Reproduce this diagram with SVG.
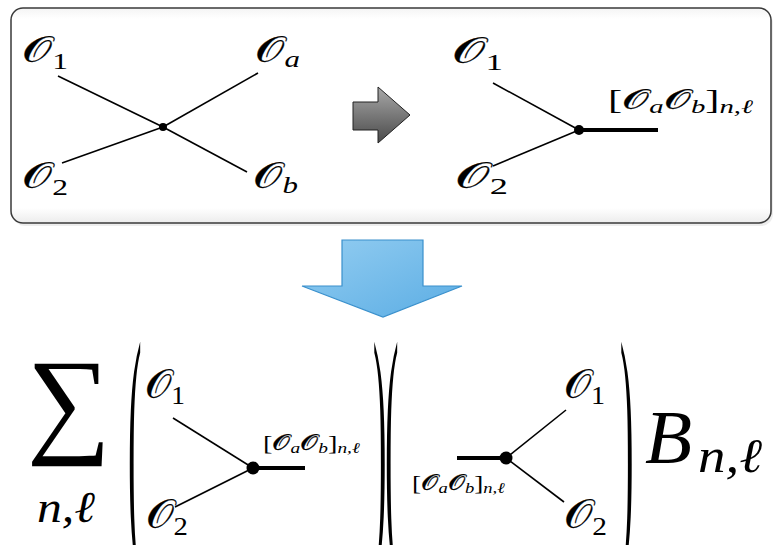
<svg xmlns="http://www.w3.org/2000/svg" width="774" height="545" viewBox="0 0 774 545">
<style>
text{fill:#000;font-family:"Liberation Serif","DejaVu Serif",serif}
.it{font-style:italic}
.o{stroke:#000;stroke-width:0.25}
.ln{stroke:#000;stroke-width:1.6;fill:none}
.thick{stroke:#000;stroke-width:4;fill:none}
</style>
<defs>
<linearGradient id="gray" x1="0" y1="0" x2="0" y2="1">
<stop offset="0" stop-color="#a8a8a8"/><stop offset="1" stop-color="#4a4a4a"/>
</linearGradient>
<linearGradient id="blue" x1="0" y1="0" x2="1" y2="1">
<stop offset="0" stop-color="#93cdf1"/><stop offset="1" stop-color="#5badE4"/>
</linearGradient>
<linearGradient id="boxg" x1="0" y1="0" x2="0" y2="1">
<stop offset="0" stop-color="#f4f4f4"/><stop offset="0.05" stop-color="#fff"/><stop offset="0.93" stop-color="#fff"/><stop offset="1" stop-color="#ececec"/>
</linearGradient>
</defs>
<rect width="774" height="545" fill="#fff"/>
<g id="top-box">
<rect x="13" y="11" width="760" height="215" rx="12" fill="#e6e6e6" opacity="0.7"/>
<rect x="11" y="8" width="760" height="215" rx="12" fill="url(#boxg)" stroke="#3a3a3a" stroke-width="1.5"/>
</g>
<g id="connectors">
<line class="ln" x1="58" y1="76" x2="163" y2="127"/>
<line class="ln" x1="163" y1="127" x2="258" y2="73"/>
<line class="ln" x1="62" y1="163" x2="163" y2="127"/>
<line class="ln" x1="163" y1="127" x2="247" y2="172"/>
<line class="ln" x1="493" y1="83" x2="579" y2="130"/>
<line class="ln" x1="493" y1="166" x2="579" y2="130"/>
<line class="thick" x1="579" y1="130" x2="658" y2="130"/>
<line class="ln" x1="173" y1="418" x2="253" y2="468"/>
<line class="ln" x1="175" y1="507" x2="253" y2="468"/>
<line class="thick" x1="253" y1="468" x2="305" y2="468"/>
<line class="thick" x1="457" y1="458" x2="506" y2="458"/>
<line class="ln" x1="506" y1="458" x2="566" y2="410"/>
<line class="ln" x1="506" y1="458" x2="564" y2="502"/>
</g>
<g id="v1"><circle cx="163" cy="127" r="4"/></g>
<g id="v2"><circle cx="579" cy="130" r="5"/></g>
<g id="v3"><circle cx="253" cy="468" r="6.5"/></g>
<g id="v4"><circle cx="506" cy="458" r="6.5"/></g>
<g id="tl-O1"><text x="22" y="62" font-size="36" textLength="46" lengthAdjust="spacingAndGlyphs"><tspan class="o">𝒪</tspan><tspan font-size="24" dy="7">1</tspan></text></g>
<g id="tl-Oa"><text x="255" y="62" font-size="36" textLength="45" lengthAdjust="spacingAndGlyphs"><tspan class="o">𝒪</tspan><tspan class="it" font-size="24" dy="5">a</tspan></text></g>
<g id="tl-O2"><text x="22" y="188" font-size="36" textLength="46" lengthAdjust="spacingAndGlyphs"><tspan class="o">𝒪</tspan><tspan font-size="24" dy="7">2</tspan></text></g>
<g id="tl-Ob"><text x="253" y="188" font-size="36" textLength="45" lengthAdjust="spacingAndGlyphs"><tspan class="o">𝒪</tspan><tspan class="it" font-size="24" dy="5">b</tspan></text></g>
<g id="arrow-right"><polygon points="353,102 378,102 378,87 410,115 378,143 378,130 353,130" fill="url(#gray)" stroke="#222" stroke-width="1"/></g>
<g id="tr-O1"><text x="452" y="63" font-size="36" textLength="51" lengthAdjust="spacingAndGlyphs"><tspan class="o">𝒪</tspan><tspan font-size="24" dy="7">1</tspan></text></g>
<g id="tr-O2"><text x="455" y="188" font-size="36" textLength="53" lengthAdjust="spacingAndGlyphs"><tspan class="o">𝒪</tspan><tspan font-size="24" dy="6">2</tspan></text></g>
<g id="tr-label"><text x="608" y="109" font-size="28" textLength="145" lengthAdjust="spacingAndGlyphs">[<tspan class="o">𝒪</tspan><tspan class="it" font-size="19" dy="4">a</tspan><tspan class="o" dy="-4">𝒪</tspan><tspan class="it" font-size="19" dy="4">b</tspan><tspan dy="-4">]</tspan><tspan class="it" font-size="19" dy="4">n,ℓ</tspan></text></g>
<g id="arrow-down"><polygon points="342,240 423,240 423,286 462,286 383,317 302,286 342,286" fill="url(#blue)" stroke="#3a90cc" stroke-width="1.2"/></g>
<g id="sum"><text x="27" y="441" font-size="118">∑</text><text class="it" x="37" y="522" font-size="44" textLength="58" lengthAdjust="spacingAndGlyphs">n,ℓ</text></g>
<g id="parens">
<text transform="translate(128,0) scale(0.15,1)" x="0" y="529" font-size="270">(</text>
<text transform="translate(373,0) scale(0.15,1)" x="0" y="529" font-size="270">)</text>
<text transform="translate(385,0) scale(0.15,1)" x="0" y="529" font-size="270">(</text>
<text transform="translate(620,0) scale(0.15,1)" x="0" y="529" font-size="270">)</text>
</g>
<g id="bl-O1"><text x="145" y="398" font-size="40" textLength="40" lengthAdjust="spacingAndGlyphs"><tspan class="o">𝒪</tspan><tspan font-size="26" dy="6">1</tspan></text></g>
<g id="bl-O2"><text x="146" y="528" font-size="40" textLength="42" lengthAdjust="spacingAndGlyphs"><tspan class="o">𝒪</tspan><tspan font-size="26" dy="7">2</tspan></text></g>
<g id="bl-label"><text x="263" y="450" font-size="22" textLength="97" lengthAdjust="spacingAndGlyphs">[<tspan class="o">𝒪</tspan><tspan class="it" font-size="15" dy="3">a</tspan><tspan class="o" dy="-3">𝒪</tspan><tspan class="it" font-size="15" dy="3">b</tspan><tspan dy="-3">]</tspan><tspan class="it" font-size="15" dy="3">n,ℓ</tspan></text></g>
<g id="br-label"><text x="412" y="490" font-size="22" textLength="93" lengthAdjust="spacingAndGlyphs">[<tspan class="o">𝒪</tspan><tspan class="it" font-size="15" dy="3">a</tspan><tspan class="o" dy="-3">𝒪</tspan><tspan class="it" font-size="15" dy="3">b</tspan><tspan dy="-3">]</tspan><tspan class="it" font-size="15" dy="3">n,ℓ</tspan></text></g>
<g id="br-O1"><text x="564" y="398" font-size="40" textLength="41" lengthAdjust="spacingAndGlyphs"><tspan class="o">𝒪</tspan><tspan font-size="26" dy="6">1</tspan></text></g>
<g id="br-O2"><text x="564" y="528" font-size="40" textLength="43" lengthAdjust="spacingAndGlyphs"><tspan class="o">𝒪</tspan><tspan font-size="26" dy="7">2</tspan></text></g>
<g id="B"><text class="it" x="645" y="463" font-size="77">B</text><text class="it" x="698" y="472" font-size="48" textLength="64" lengthAdjust="spacingAndGlyphs">n,ℓ</text></g>
</svg>
